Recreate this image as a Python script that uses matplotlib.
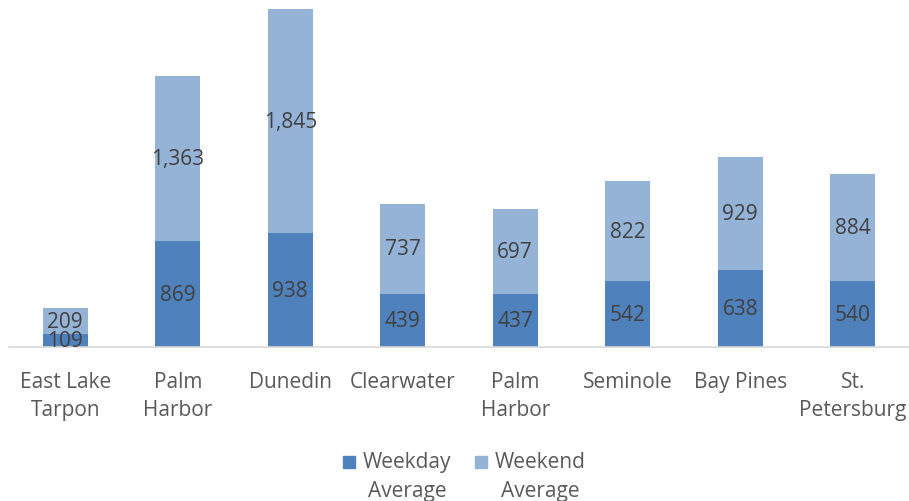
import matplotlib
matplotlib.use("Agg")
import matplotlib.pyplot as plt
from matplotlib.patches import Rectangle
import numpy as np

categories = ["East Lake\nTarpon", "Palm\nHarbor", "Dunedin", "Clearwater", "Palm\nHarbor",
              "Seminole", "Bay Pines", "St.\nPetersburg"]
weekday = [109, 869, 938, 439, 437, 542, 638, 540]
weekend = [209, 1363, 1845, 737, 697, 822, 929, 884]
series_names = ["Weekday\nAverage", "Weekend\nAverage"]

plt.rcParams['font.family'] = ['Open Sans', 'DejaVu Sans']

W, H = 909, 502
fig = plt.figure(figsize=(W / 100, H / 100), dpi=100)
ax = fig.add_axes([9 / W, 1 - 348 / H, 900 / W, 348 / H])

x = np.arange(len(categories))
c1, c2 = "#4F81BD", "#95B3D7"
ax.bar(x, weekday, width=0.4, color=c1, label=series_names[0])
ax.bar(x, weekend, width=0.4, bottom=weekday, color=c2, label=series_names[1])

for i in range(len(x)):
    ax.text(x[i], weekday[i] / 2, f"{weekday[i]:,}", ha='center', va='center',
            fontsize=15, color="#404040")
    ax.text(x[i], weekday[i] + weekend[i] / 2, f"{weekend[i]:,}", ha='center', va='center',
            fontsize=15, color="#404040")

ax.set_xlim(-0.5, len(x) - 0.5)
ax.set_ylim(0, 2865)
ax.set_yticks([])
ax.set_xticks(x)
ax.set_xticklabels(categories, fontsize=15, color="#595959", linespacing=1.45)
ax.tick_params(axis='x', length=0, pad=17)
for s in ["top", "right", "left"]:
    ax.spines[s].set_visible(False)
ax.spines["bottom"].set_color("#D9D9D9")
ax.spines["bottom"].set_linewidth(1.2)

# legend (manual, square aligned with first text line as in reference)
legend_items = [(343, 407, c1, series_names[0]), (475, 540, c2, series_names[1])]
for sx, tx, col, name in legend_items:
    fig.patches.append(Rectangle((sx / W, 1 - 469 / H), 12 / W, 12 / H,
                                 transform=fig.transFigure, color=col, figure=fig))
    fig.text(tx / W, 1 - 452 / H, name, ha='center', va='top', fontsize=15,
             color="#595959", multialignment='center', linespacing=1.5)

fig.savefig("out.png", dpi=100)
